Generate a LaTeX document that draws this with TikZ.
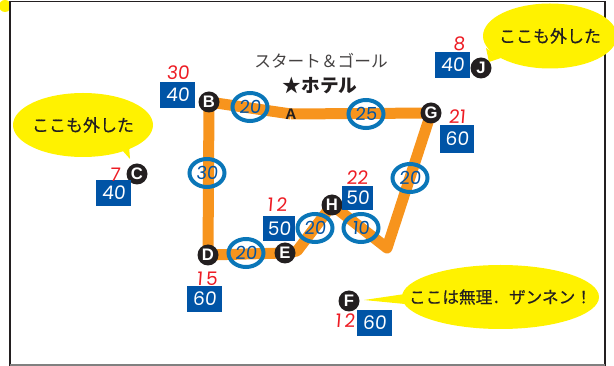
\documentclass[tikz,border=0pt]{standalone}
\usepackage{fontspec}
\setmainfont{Noto Sans CJK JP}
\newfontfamily\numfont[FakeSlant=0.08]{Poppins}
\newfontfamily\latinfont{Liberation Sans}
\newfontfamily\bubblefont[FakeBold=0.4]{Noto Sans CJK JP}
\usetikzlibrary{shapes.geometric,backgrounds}
\newlength{\du}
\setlength{\du}{0.75pt}
\definecolor{routecolor}{rgb}{0.969, 0.580, 0.114}
\definecolor{boxcolor}{rgb}{0.000, 0.329, 0.651}
\definecolor{ringcolor}{rgb}{0.039, 0.463, 0.722}
\definecolor{redcolor}{rgb}{0.929, 0.110, 0.141}
\definecolor{bubblecolor}{rgb}{1.000, 0.949, 0.000}
\definecolor{dotcolor}{rgb}{0.137, 0.122, 0.125}
\tikzset{
  stopdot/.style={circle,fill=dotcolor,draw=none,text=white,inner sep=0pt,minimum size=21\du,font=\latinfont\fontsize{12.5}{13}\selectfont\bfseries},
  capbox/.style={rectangle,fill=boxcolor,text=white,inner sep=0pt,font=\numfont\fontsize{14}{15}\selectfont},
  timering/.style={ellipse,draw=ringcolor,line width=4\du,inner sep=0pt,minimum width=35\du,minimum height=28\du,text=boxcolor,font=\numfont\fontsize{13.5}{14}\selectfont},
  gainlabel/.style={text=redcolor,inner sep=0pt,font=\numfont\fontsize{14}{15}\selectfont},
  bubble/.style={ellipse,fill=bubblecolor,inner ysep=0pt,inner xsep=-30\du,text=dotcolor,font=\bubblefont\fontsize{12.75}{14}\selectfont},
  route/.style={draw=routecolor,line width=11\du,line join=round}
}

\begin{document}
\begin{tikzpicture}
\pgftransformyscale{-1.000000}
\useasboundingbox (0\du,0\du) rectangle (614\du,366\du);
% frame
\node[circle,fill=bubblecolor,inner sep=0pt,minimum size=12\du] (corner) at (5\du,6\du) {};
\draw[draw=dotcolor,line width=1.6\du] (10\du,366\du)--(10\du,1.5\du)--(605\du,1.5\du)--(605\du,366\du);
\draw[draw=gray,line width=1.2\du] (10\du,365\du)--(605\du,365\du);
% stops
\node[inner sep=0pt,font=\latinfont\fontsize{11.5}{12}\selectfont\bfseries,text=dotcolor] (A) at (291\du,114\du) {A};
\node[stopdot] (B) at (209\du,102\du) {B};
\node[stopdot] (C) at (137\du,174\du) {C};
\node[stopdot] (D) at (208\du,255\du) {D};
\node[stopdot] (E) at (285\du,253\du) {E};
\node[stopdot] (F) at (349\du,301\du) {F};
\node[stopdot] (G) at (431\du,113\du) {G};
\node[stopdot] (H) at (332\du,205\du) {H};
\node[stopdot] (J) at (481\du,68\du) {J};
\coordinate (bend) at (387\du,248\du);
\coordinate (elbow) at (297\du,251\du);
% route
\begin{scope}[on background layer]
\draw[route] (B.center)--(A.center);
\draw[route] (A.center)--(G.center);
\draw[route] (B.center)--(D.center)--(E.center)--(elbow)--(H.center)--(bend)--(G.center);
\end{scope}
% times
\node[timering] (ringBA) at (250\du,107\du) {20};
\node[timering] (ringAG) at (366\du,114\du) {25};
\node[timering] (ringBD) at (207\du,173\du) {30};
\node[timering] (ringDE) at (246\du,253\du) {20};
\node[timering] (ringEH) at (315\du,228\du) {20};
\node[timering] (ringHb) at (361\du,228\du) {10};
\node[timering] (ringbG) at (410\du,178\du) {20};
% boxes
\node[capbox,minimum width=35\du,minimum height=26\du] (boxB) at (177.5\du,95\du) {40};
\node[capbox,minimum width=35\du,minimum height=26\du] (boxC) at (113.5\du,193\du) {40};
\node[capbox,minimum width=35\du,minimum height=26\du] (boxJ) at (452.5\du,65\du) {40};
\node[capbox,minimum width=34\du,minimum height=28\du] (boxG) at (457\du,139\du) {60};
\node[capbox,minimum width=32\du,minimum height=25\du] (boxE) at (279\du,228.5\du) {50};
\node[capbox,minimum width=35\du,minimum height=26\du] (boxD) at (204.5\du,299\du) {60};
\node[capbox,minimum width=31\du,minimum height=24\du] (boxH) at (357.5\du,198\du) {50};
\node[capbox,minimum width=35\du,minimum height=26\du] (boxF) at (374.5\du,323\du) {60};
% gains
\node[gainlabel] (gainB) at (178\du,73\du) {30};
\node[gainlabel] (gainC) at (115\du,175\du) {7};
\node[gainlabel] (gainJ) at (459\du,44\du) {8};
\node[gainlabel] (gainG) at (457\du,117\du) {21};
\node[gainlabel] (gainE) at (277\du,205\du) {1\,2};
\node[gainlabel] (gainD) at (207\du,279\du) {1\,5};
\node[gainlabel] (gainH) at (357\du,178\du) {22};
\node[gainlabel] (gainF) at (345\du,321\du) {1\,2};
% title
\node[inner sep=0pt,text=dotcolor!85,font=\fontsize{12.5}{13}\selectfont] (title) at (321\du,61\du) {スタート＆ゴール};
\node[inner sep=0pt,text=dotcolor,font=\fontsize{14}{15}\selectfont\bfseries] (hotel) at (320\du,86\du) {★ホテル};
% bubbles
\node[bubble,minimum width=140\du,minimum height=64\du] (bubbleC) at (83\du,125\du) {ここも外した\hspace{8\du}};
\node[bubble,minimum width=134\du,minimum height=65\du] (bubbleJ) at (550\du,36\du) {ここも外した};
\node[bubble,minimum width=197\du,minimum height=64\du,font=\bubblefont\fontsize{12.5}{14}\selectfont] (bubbleF) at (500.5\du,297\du) {ここは無理．ザンネン！\hspace{8\du}};
\coordinate (tipC) at (130\du,159\du);
\coordinate (tipJ) at (489\du,62\du);
\coordinate (tipF) at (364\du,300\du);
\begin{scope}[on background layer]
\fill[bubblecolor] (122\du,150\du)--(tipC)--(129\du,146\du)--cycle;
\fill[bubblecolor] (486\du,48\du)--(tipJ)--(501\du,58\du)--cycle;
\fill[bubblecolor] (405\du,294\du)--(tipF)--(405\du,304\du)--cycle;
\end{scope}
\end{tikzpicture}
\end{document}
